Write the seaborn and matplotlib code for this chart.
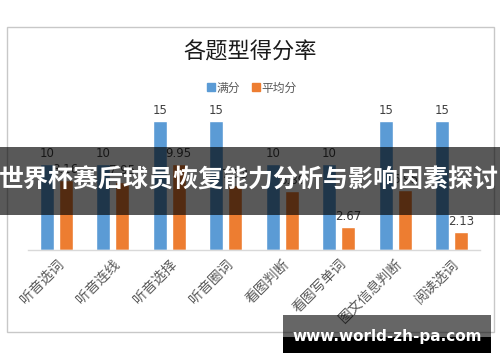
import matplotlib
matplotlib.use("Agg")
import matplotlib.pyplot as plt
import seaborn as sns
import pandas as pd
from matplotlib.patches import Rectangle
from matplotlib.lines import Line2D

categories = ["听音选词", "听音连线", "听音选择", "听音圈词", "看图判断", "看图写单词", "图文信息判断", "阅读选词"]
full_scores = [10, 10, 15, 15, 10, 10, 15, 15]
avg_scores = [8.16, 7.95, 9.95, 7.53, 6.89, 2.67, 6.95, 2.13]
series_names = ["满分", "平均分"]

sns.set_theme(style="white")
plt.rcParams['font.family'] = ['Noto Sans CJK SC', 'DejaVu Sans']

df = pd.DataFrame({
    "题型": categories * 2,
    "分数": full_scores + avg_scores,
    "系列": [series_names[0]] * len(categories) + [series_names[1]] * len(categories),
})

W, H = 500, 362
fig = plt.figure(figsize=(5, 3.62), dpi=100)
fig.patch.set_facecolor("white")

# chart box
fig.patches.append(Rectangle((7 / W, 1 - 332 / H), 487 / W, 305 / H, transform=fig.transFigure,
                             facecolor="white", edgecolor="#C8C8C8", linewidth=1.0, zorder=-5))

ax = fig.add_axes([28 / W, 1 - 250 / H, 452 / W, 155 / H])
ax.set_zorder(1)
ax.set_facecolor("none")
sns.barplot(data=df, x="题型", y="分数", hue="系列", palette=["#5B9BD5", "#ED7D31"],
            width=0.67, gap=0.26, ax=ax, legend=False, saturation=1)
ax.set_ylim(0, 155 / 8.6)
ax.set_xlim(-0.5, len(categories) - 0.5)
for c in ax.containers:
    ax.bar_label(c, labels=[f"{v:g}" for v in c.datavalues], padding=3, fontsize=8.5,
                 color="#404040", family=['DejaVu Sans'])
for s in ["top", "left", "right"]:
    ax.spines[s].set_visible(False)
ax.spines["bottom"].set_color("#D9D9D9")
ax.spines["bottom"].set_linewidth(1.0)
ax.set_yticks([])
ax.set_xlabel("")
ax.set_ylabel("")
ax.tick_params(axis="x", length=0, pad=5)
for lab in ax.get_xticklabels():
    lab.set_rotation(45)
    lab.set_ha("right")
    lab.set_rotation_mode("anchor")
    lab.set_fontsize(10)
    lab.set_color("#595959")

# title and legend
fig.text(250 / W, 1 - 52 / H, "各题型得分率", ha="center", va="center", fontsize=16,
         fontweight="medium", color="#1a1a1a")
handles = [Line2D([], [], marker="s", linestyle="none", markersize=6, color=col) for col in ["#5B9BD5", "#ED7D31"]]
fig.legend(handles, series_names, loc="center", bbox_to_anchor=(252 / W, 1 - 88 / H), ncol=2,
           frameon=False, fontsize=8.5, handlelength=0.6, handletextpad=0.2, columnspacing=1.0,
           labelcolor="#595959")

# overlay banners
ov = fig.add_axes([0, 0, 1, 1], zorder=10)
ov.set_axis_off()
ov.set_xlim(0, W)
ov.set_ylim(H, 0)
ov.add_patch(Rectangle((0, 147), W, 68, facecolor="black", alpha=0.65, edgecolor="none"))
ov.text(249, 181, "世界杯赛后球员恢复能力分析与影响因素探讨", ha="center", va="center",
        fontsize=18, fontweight="bold", color="white")
ov.add_patch(Rectangle((283, 315), 208, 22, facecolor="black", alpha=0.6, edgecolor="none"))
ov.add_patch(Rectangle((283, 337), 208, 16, facecolor="black", edgecolor="none"))
ov.text(387, 337, "www.world-zh-pa.com", ha="center", va="center", fontsize=11,
        fontweight="bold", color="white", family=["DejaVu Sans"])

fig.savefig("out.png", dpi=100, facecolor="white")
